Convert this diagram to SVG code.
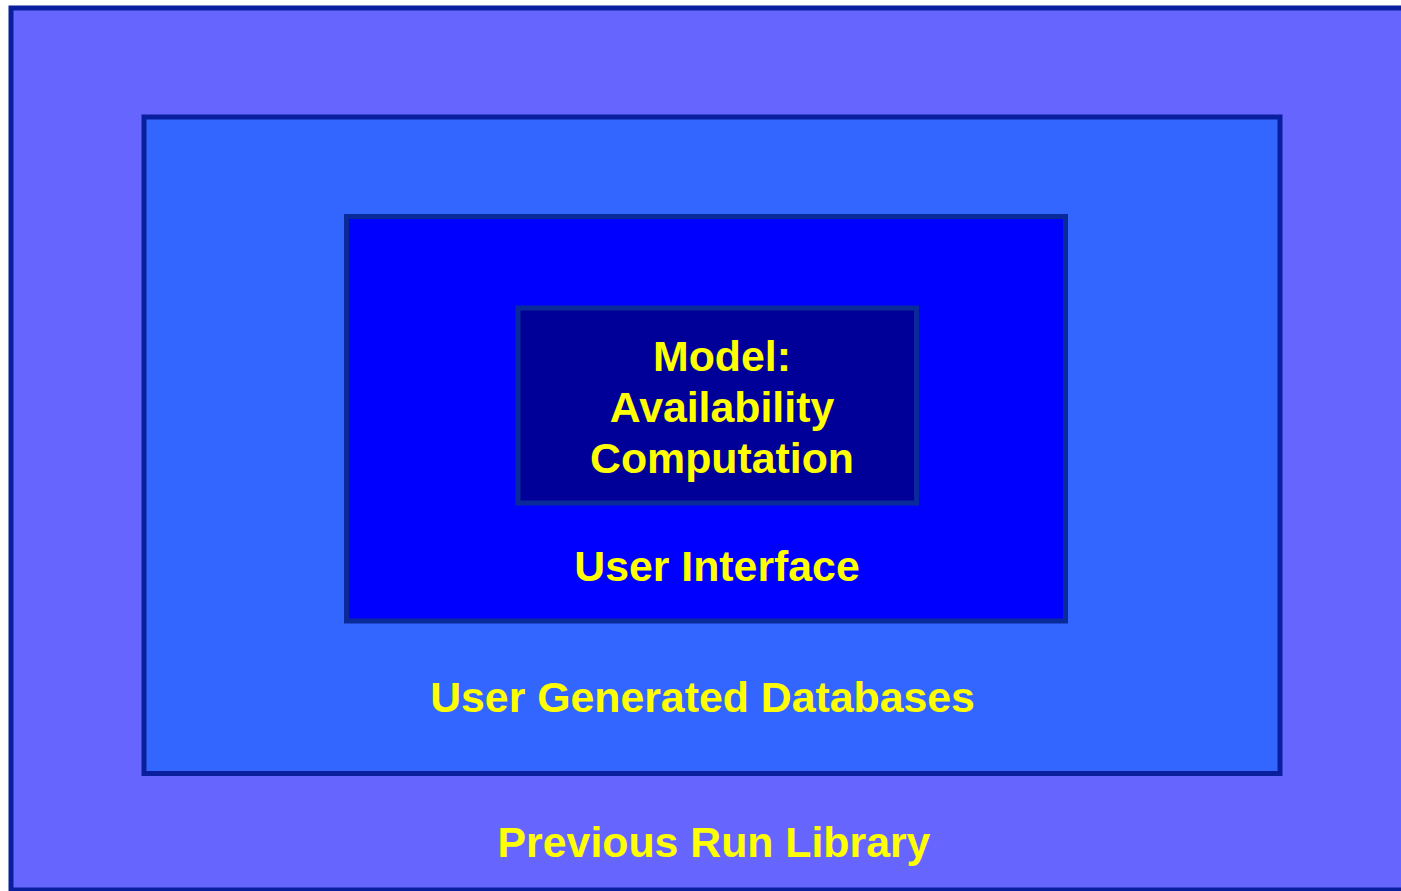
<svg xmlns="http://www.w3.org/2000/svg" width="1401" height="891" viewBox="0 0 1401 891">
<style>
.box{stroke-width:5;stroke-linejoin:miter}
.lbl{font-family:"Liberation Sans",Arial,sans-serif;font-weight:bold;font-size:42.8px;fill:#FFFF00;text-anchor:middle}
</style>
<rect width="1401" height="891" fill="#FFFFFF"/>
<g id="previous-run-library">
<rect class="box" x="11" y="8" width="1400" height="882" fill="#6666FF" stroke="#0A1F9E"/>
<text class="lbl" x="714" y="857">Previous Run Library</text>
</g>
<g id="user-generated-databases">
<rect class="box" x="144" y="117" width="1136" height="656.5" fill="#3366FF" stroke="#0A1F9E"/>
<text class="lbl" x="702.5" y="712">User Generated Databases</text>
</g>
<g id="user-interface">
<rect class="box" x="346.5" y="216.5" width="719" height="404.5" fill="#0000FF" stroke="#0A2A99"/>
<text class="lbl" x="717" y="581">User Interface</text>
</g>
<g id="model">
<rect class="box" x="518" y="308" width="398.5" height="195" fill="#000099" stroke="#0A2A99"/>
<text class="lbl" x="722" y="371">Model:</text>
<text class="lbl" x="722" y="422">Availability</text>
<text class="lbl" x="722" y="473">Computation</text>
</g>
<g id="connectors"/>
</svg>
